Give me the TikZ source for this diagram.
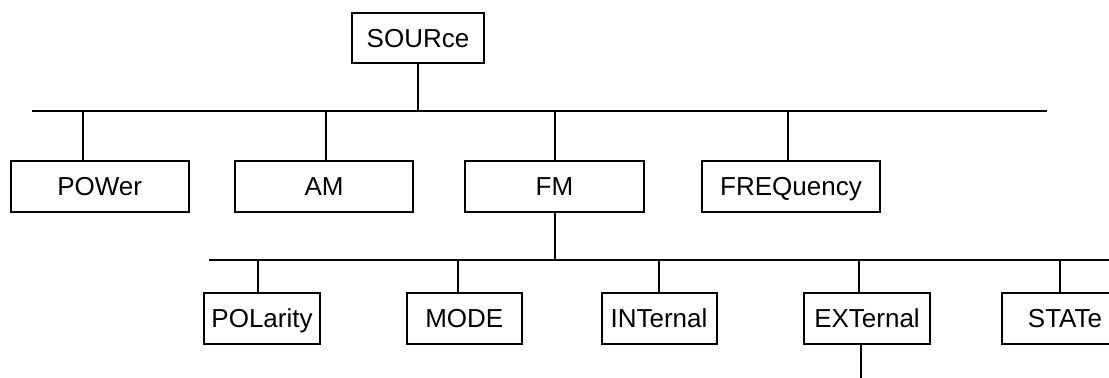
\documentclass[tikz,border=0pt]{standalone}
\usepackage{fontspec}
\setmainfont{Liberation Sans}
\usetikzlibrary{calc}

\begin{document}
\begin{tikzpicture}[
    x=0.5pt, y=-0.5pt,
    cmd/.style={draw, line width=1pt, inner sep=0pt, minimum height=25.5pt,
                minimum width=#1, text height=9.3pt, text depth=0pt,
                font=\fontsize{13}{15}\selectfont},
    wire/.style={line width=1pt},
  ]
  \useasboundingbox (0,0) rectangle (1109,377);

  % ── ROOT ──
  \node[cmd=66pt, minimum height=25pt] (src) at (418,37.7) {SOURce};
  \coordinate (busA) at (32,111);
  \coordinate (busAend) at (1047,111);
  \draw[wire] (busA) -- (busAend);
  \draw[wire] (src) -- (src |- busA);

  % ── FIRST LEVEL ──
  \node[cmd=89pt] (pow) at (99.7,186.5) {POWer};
  \node[cmd=89pt] (am) at (324,186.5) {AM};
  \node[cmd=89.5pt] (fm) at (554.5,186.5) {FM};
  \node[cmd=89pt] (freq) at (791,186.5) {FREQuency};

  \coordinate (powtop) at ($(pow.north)+(-16.4,0)$);
  \coordinate (amtop) at ($(am.north)+(1.7,0)$);
  \coordinate (freqtop) at ($(freq.north)+(-3,0)$);
  \draw[wire] (powtop |- busA) -- (powtop);
  \draw[wire] (amtop |- busA) -- (amtop);
  \draw[wire] (fm.north |- busA) -- (fm.north);
  \draw[wire] (freqtop |- busA) -- (freqtop);

  % ── FM SUBTREE ──
  \coordinate (busB) at (209.3,260);
  \coordinate (busBend) at (1115,260);
  \draw[wire] (busB) -- (busBend);
  \draw[wire] (fm) -- (fm |- busB);

  \node[cmd=58pt] (pol) at (262,318.5) {POLarity};
  \node[cmd=57.5pt] (mode) at (464.3,318.5) {MODE};
  \node[cmd=57.5pt] (int) at (659,318.5) {INTernal};
  \node[cmd=63pt] (ext) at (867,318.5) {EXTernal};
  \node[cmd=63pt] (stat) at (1065,318.5) {STATe};

  \coordinate (poltop) at ($(pol.north)+(-3.7,0)$);
  \coordinate (modetop) at ($(mode.north)+(-6,0)$);
  \coordinate (exttop) at ($(ext.north)+(-7.7,0)$);
  \coordinate (stattop) at ($(stat.north)+(-5,0)$);
  \draw[wire] (poltop |- busB) -- (poltop);
  \draw[wire] (modetop |- busB) -- (modetop);
  \draw[wire] (int.north |- busB) -- (int.north);
  \draw[wire] (exttop |- busB) -- (exttop);
  \draw[wire] (stattop |- busB) -- (stattop);

  % ── EXTernal continues ──
  \coordinate (extbot) at ($(ext.south)+(-6.3,0)$);
  \coordinate (floor) at (0,382);
  \draw[wire] (extbot) -- (extbot |- floor);
\end{tikzpicture}
\end{document}
